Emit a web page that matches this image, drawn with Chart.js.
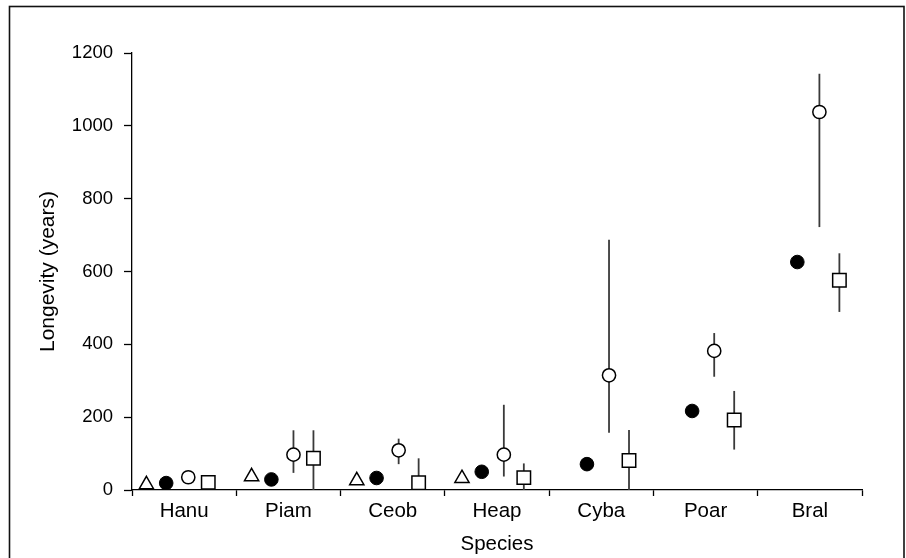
<!DOCTYPE html>
<html>
<head>
<meta charset="utf-8">
<script src="https://cdn.jsdelivr.net/npm/chart.js@4.4.1/dist/chart.umd.min.js"></script>
<style>
  html, body { margin: 0; padding: 0; background: #ffffff; }
  #wrap { position: absolute; left: 0; top: 0; width: 906px; height: 558px; }
</style>
</head>
<body>
<div id="wrap"><canvas id="c"></canvas></div>
<script>
// ---- data ----
const categories = ['Hanu', 'Piam', 'Ceob', 'Heap', 'Cyba', 'Poar', 'Bral'];
const yTickValues = [0, 200, 400, 600, 800, 1000, 1200];

const triangleValues = [15, 37, 26, 32, null, null, null];
const filledValues   = [19, 29, 33, 50, 71, 217, 626];
const openValues     = [35, 97, 109, 97, 315, 382, 1038];
const openLow        = [null, 47, 71, 37, 157, 311, 722];
const openHigh       = [null, 164, 141, 234, 687, 431, 1143];
const squareValues   = [21, 87, 20, 34, 81, 192, 576];
const squareLow      = [null, 0, 0, 0, 0, 111, 489];
const squareHigh     = [null, 164, 87, 73, 165, 272, 650];

// ---- styling / layout ----
const FONT = '"Liberation Sans", Arial, Helvetica, sans-serif';
const seriesOffset = { tri: 0.167, filled: 0.355, open: 0.565, square: 0.755 };

function pts(values, off, lo, hi) {
  const out = [];
  values.forEach((v, i) => {
    if (v === null) return;
    out.push({ x: i + off, y: v, lo: lo ? lo[i] : null, hi: hi ? hi[i] : null });
  });
  return out;
}

const errorBars = {
  id: 'errorBars',
  beforeDatasetsDraw(chart) {
    const ctx = chart.ctx;
    const xs = chart.scales.xd, ys = chart.scales.y;
    ctx.save();
    ctx.strokeStyle = '#3a3a3a';
    ctx.lineWidth = 1.8;
    chart.data.datasets.forEach(ds => {
      ds.data.forEach(p => {
        if (p.lo === null || p.hi === null || p.lo === undefined) return;
        const x = xs.getPixelForValue(p.x);
        ctx.beginPath();
        ctx.moveTo(x, ys.getPixelForValue(p.lo));
        ctx.lineTo(x, ys.getPixelForValue(p.hi));
        ctx.stroke();
      });
    });
    ctx.restore();
  }
};

const frame = {
  id: 'frame',
  afterDraw(chart) {
    const ctx = chart.ctx;
    ctx.save();
    ctx.strokeStyle = '#111';
    ctx.lineWidth = 1.6;
    ctx.strokeRect(9.5, 6.5, 894.5, 600);
    ctx.restore();
  }
};

new Chart(document.getElementById('c'), {
  type: 'scatter',
  data: {
    datasets: [
      { label: 'triangle', data: pts(triangleValues, seriesOffset.tri), xAxisID: 'xd',
        pointStyle: 'triangle', pointRadius: 8.2, pointHoverRadius: 8.2,
        backgroundColor: '#ffffff', borderColor: '#000', borderWidth: 1.5 },
      { label: 'filled', data: pts(filledValues, seriesOffset.filled), xAxisID: 'xd',
        pointStyle: 'circle', pointRadius: 6.8, pointHoverRadius: 6.8,
        backgroundColor: '#000', borderColor: '#000', borderWidth: 1 },
      { label: 'open', data: pts(openValues, seriesOffset.open, openLow, openHigh), xAxisID: 'xd',
        pointStyle: 'circle', pointRadius: 6.6, pointHoverRadius: 6.6,
        backgroundColor: '#ffffff', borderColor: '#000', borderWidth: 1.5 },
      { label: 'square', data: pts(squareValues, seriesOffset.square, squareLow, squareHigh), xAxisID: 'xd',
        pointStyle: 'rect', pointRadius: 9.5, pointHoverRadius: 9.5,
        backgroundColor: '#ffffff', borderColor: '#000', borderWidth: 1.5 }
    ]
  },
  options: {
    responsive: true,
    maintainAspectRatio: false,
    animation: false,
    layout: { padding: { top: 53, right: 44, bottom: 0, left: 0 } },
    plugins: { legend: { display: false }, tooltip: { enabled: false } },
    scales: {
      xd: {
        type: 'linear', display: false, position: 'bottom',
        min: 0.03, max: 6.97
      },
      x: {
        type: 'linear', position: 'bottom',
        min: 0, max: 7,
        afterBuildTicks(scale) {
          const t = [];
          for (let i = 0; i <= categories.length; i++) {
            t.push({ value: i });
            if (i < categories.length) t.push({ value: i + 0.5 });
          }
          scale.ticks = t;
        },
        afterFit(scale) { scale.height = 68; },
        ticks: {
          autoSkip: false, maxRotation: 0, padding: 3,
          color: '#000', font: { family: FONT, size: 20.5 },
          callback(v) { return (v % 1) === 0.5 ? categories[Math.floor(v)] : ''; }
        },
        grid: {
          drawOnChartArea: false, tickLength: 6, tickWidth: 1.3,
          tickColor(ctx) { return ctx.tick && (ctx.tick.value % 1) === 0 ? '#000' : 'rgba(0,0,0,0)'; }
        },
        border: { display: true, color: '#000', width: 1.3 },
        title: {
          display: true, text: 'Species', color: '#000',
          font: { family: FONT, size: 20.5 }, padding: { top: 0, bottom: 1 }
        }
      },
      y: {
        type: 'linear', position: 'left',
        min: 0, max: 1200,
        afterBuildTicks(scale) { scale.ticks = yTickValues.map(v => ({ value: v })); },
        afterFit(scale) { scale.width = 132; },
        ticks: {
          color: '#000', padding: 11, font: { family: FONT, size: 18.5 },
          callback(v) { return String(v); }
        },
        grid: { drawOnChartArea: false, tickLength: 8, tickWidth: 1.3, tickColor: '#000' },
        border: { display: true, color: '#000', width: 1.3 },
        title: {
          display: true, text: 'Longevity (years)', color: '#000',
          font: { family: FONT, size: 21 }, padding: { top: 36, bottom: 0 }
        }
      }
    }
  },
  plugins: [errorBars, frame]
});
</script>
</body>
</html>
